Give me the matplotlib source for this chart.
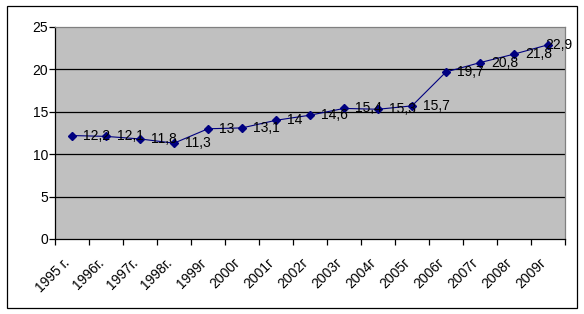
import numpy as np
import matplotlib
matplotlib.use("Agg")
import matplotlib.pyplot as plt
import matplotlib.transforms as mtransforms
from matplotlib.patches import Rectangle

#%% - données
annees = ["1995 г.", "1996г.", "1997г.", "1998г.", "1999г", "2000г", "2001г",
          "2002г", "2003г", "2004г", "2005г", "2006г", "2007г", "2008г", "2009г"]
valeurs = [12.2, 12.1, 11.8, 11.3, 13.0, 13.1, 14.0, 14.6, 15.4, 15.3, 15.7,
           19.7, 20.8, 21.8, 22.9]
etiquettes = ["12,2", "12,1", "11,8", "11,3", "13", "13,1", "14", "14,6",
              "15,4", "15,3", "15,7", "19,7", "20,8", "21,8", "22,9"]

plt.rcParams['font.family'] = ['Liberation Sans', 'DejaVu Sans']
plt.rcParams['font.size'] = 10

W, H = 584, 314
fig = plt.figure(figsize=(W / 100, H / 100), dpi=100)

# cadre noir autour du graphique
fig.patches.append(Rectangle((6.5 / W, 6.5 / H), 570 / W, 302 / H,
                             transform=fig.transFigure, fill=False,
                             edgecolor='black', linewidth=0.9))

ax = fig.add_axes([55 / W, (H - 239) / H, 510 / W, 212 / H])
ax.set_facecolor('#C0C0C0')

x = np.arange(len(valeurs))
ax.plot(x, valeurs, color='#000080', linewidth=0.8, marker='D',
        markersize=4.5, markerfacecolor='#000080', markeredgecolor='#000080',
        zorder=3)

# étiquettes de données
for i, (v, s) in enumerate(zip(valeurs, etiquettes)):
    dx = 11 if i < len(valeurs) - 1 else -3
    ax.annotate(s, (i, v), xytext=(dx, 0), textcoords='offset pixels',
                ha='left', va='center', zorder=4)

ax.set_xlim(-0.5, len(valeurs) - 0.5)
ax.set_ylim(0, 25)
ax.set_yticks([0, 5, 10, 15, 20, 25])
for y in [5, 10, 15, 20]:
    ax.axhline(y, color='black', linewidth=0.9, zorder=1)

ax.spines['top'].set_color('#808080')
ax.spines['right'].set_color('#808080')
for cote in ['top', 'right', 'left', 'bottom']:
    ax.spines[cote].set_linewidth(0.9)

ax.set_xticks(x)
ax.set_xticklabels(annees, rotation=45, ha='right', va='top',
                   rotation_mode='anchor')
ax.set_xticks(np.arange(-0.5, len(valeurs)), minor=True)
ax.tick_params(axis='x', which='major', length=0, pad=12)
ax.tick_params(axis='x', which='minor', length=4, width=0.9, direction='out')
ax.tick_params(axis='y', length=4, width=0.9, pad=1)

decal = mtransforms.ScaledTranslation(-9 / 100, 0, fig.dpi_scale_trans)
for lab in ax.get_xticklabels():
    lab.set_transform(lab.get_transform() + decal)

fig.savefig("out.png", dpi=100)
